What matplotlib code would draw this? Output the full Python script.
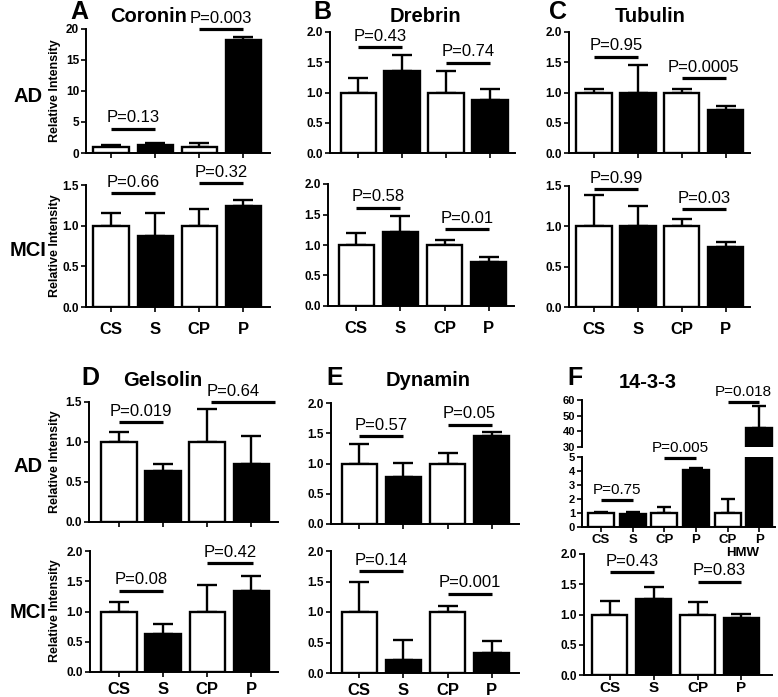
import numpy as np
import matplotlib
matplotlib.use("Agg")
import matplotlib.pyplot as plt

plt.rcParams['font.family'] = ['Liberation Sans', 'DejaVu Sans']

# ---- data ----
groups = ["CS", "S", "CP", "P"]
groups_f = ["CS", "S", "CP", "P", "CP", "P"]
fills = ["white", "black", "white", "black"]
fills_f = ["white", "black", "white", "black", "white", "black"]

coronin_ad = [1.0, 1.3, 1.0, 18.3]
coronin_ad_err = [0.3, 0.3, 0.6, 0.4]
coronin_mci = [1.0, 0.87, 1.0, 1.24]
coronin_mci_err = [0.15, 0.28, 0.2, 0.08]

drebrin_ad = [1.0, 1.36, 1.0, 0.87]
drebrin_ad_err = [0.24, 0.26, 0.35, 0.19]
drebrin_mci = [1.0, 1.21, 1.0, 0.72]
drebrin_mci_err = [0.19, 0.26, 0.08, 0.08]

tubulin_ad = [1.0, 1.0, 1.0, 0.71]
tubulin_ad_err = [0.05, 0.45, 0.05, 0.07]
tubulin_mci = [1.0, 1.0, 1.0, 0.75]
tubulin_mci_err = [0.39, 0.25, 0.09, 0.06]

gelsolin_ad = [1.0, 0.64, 1.0, 0.73]
gelsolin_ad_err = [0.12, 0.08, 0.41, 0.35]
gelsolin_mci = [1.0, 0.63, 1.0, 1.34]
gelsolin_mci_err = [0.16, 0.17, 0.43, 0.25]

dynamin_ad = [1.0, 0.78, 1.0, 1.46]
dynamin_ad_err = [0.33, 0.23, 0.18, 0.06]
dynamin_mci = [1.0, 0.21, 1.0, 0.33]
dynamin_mci_err = [0.49, 0.33, 0.1, 0.19]

ywhaz_ad = [1.0, 0.95, 1.0, 4.05, 1.0, 42.0]
ywhaz_ad_err = [0.1, 0.1, 0.45, 0.2, 1.0, 14.0]
ywhaz_mci = [1.0, 1.26, 1.0, 0.95]
ywhaz_mci_err = [0.22, 0.19, 0.21, 0.06]

# p-value brackets: (text, from bar, to bar, height[, text position])
coronin_ad_p = [("P=0.13", 0, 1, 3.9), ("P=0.003", 2, 3, 20.0)]
coronin_mci_p = [("P=0.66", 0, 1, 1.40), ("P=0.32", 2, 3, 1.52)]
drebrin_ad_p = [("P=0.43", 0, 1, 1.75), ("P=0.74", 2, 3, 1.49)]
drebrin_mci_p = [("P=0.58", 0, 1, 1.61), ("P=0.01", 2, 3, 1.26)]
tubulin_ad_p = [("P=0.95", 0, 1, 1.59), ("P=0.0005", 2, 3, 1.24)]
tubulin_mci_p = [("P=0.99", 0, 1, 1.46), ("P=0.03", 2, 3, 1.21)]
gelsolin_ad_p = [("P=0.019", 0, 1, 1.25), ("P=0.64", 2.1, 3.55, 1.5, 2.6)]
gelsolin_mci_p = [("P=0.08", 0, 1, 1.34), ("P=0.42", 2, 3.05, 1.8)]
dynamin_ad_p = [("P=0.57", 0, 1, 1.45), ("P=0.05", 2, 3, 1.64)]
dynamin_mci_p = [("P=0.14", 0, 1, 1.67), ("P=0.001", 2, 3, 1.3)]
ywhaz_ad_p_low = [("P=0.75", 0, 1, 1.93), ("P=0.005", 2, 3, 4.9)]
ywhaz_ad_p_high = [("P=0.018", 4, 5, 58.7)]
ywhaz_mci_p = [("P=0.43", 0, 1, 1.70), ("P=0.83", 2, 3, 1.54)]

# ---- layout helpers ----
W, H = 778, 697
fig = plt.figure(figsize=(W / 100, H / 100), dpi=100)


def make_ax(l, r, t, b):
    return fig.add_axes([l / W, 1 - b / H, (r - l) / W, (b - t) / H])


def draw_bars(ax, means, errs, colors, width=0.8, capsize=7.5):
    x = np.arange(len(means))
    ax.bar(x, means, width, color=colors, edgecolor="black", linewidth=1.7, zorder=2)
    ax.errorbar(x, means, yerr=[np.zeros(len(errs)), errs], fmt="none", ecolor="black",
                elinewidth=1.7, capsize=capsize, capthick=1.7, zorder=1)


def style(ax, ylim, yticks, ytl, n=4, labels=None, lsize=12, xlim=(-0.6, 3.5), pad=7, ysize=8.5):
    ax.set_xlim(*xlim)
    ax.set_ylim(*ylim)
    for s in ["top", "right"]:
        ax.spines[s].set_visible(False)
    for s in ["left", "bottom"]:
        ax.spines[s].set_linewidth(1.4)
    ax.set_yticks(yticks)
    ax.set_yticklabels(ytl, fontsize=ysize, fontweight="bold")
    ax.set_xticks(np.arange(n))
    if labels is None:
        ax.set_xticklabels([])
    else:
        ax.set_xticklabels(labels, fontsize=lsize, fontweight="bold")
    ax.tick_params(direction="out", length=3.5, width=1.2, pad=1.5)
    ax.tick_params(axis="x", pad=pad)


def pvals(ax, items, size=12):
    for item in items:
        text, i, j, y = item[:4]
        tx = item[4] if len(item) > 4 else (i + j) / 2
        ax.plot([i, j], [y, y], color="black", lw=2.3, clip_on=False, solid_capstyle="butt")
        ax.annotate(text, xy=(tx, y), xytext=(0, 2.5), textcoords="offset points",
                    ha="center", va="bottom", fontsize=size, annotation_clip=False)


half = ["0.0", "0.5", "1.0", "1.5"]
full = ["0.0", "0.5", "1.0", "1.5", "2.0"]
ticks_half = [0, 0.5, 1.0, 1.5]
ticks_full = [0, 0.5, 1.0, 1.5, 2.0]

# ---- A: Coronin ----
ax = make_ax(86, 270, 29, 153)
draw_bars(ax, coronin_ad, coronin_ad_err, fills)
style(ax, (0, 20), [0, 5, 10, 15, 20], ["0", "5", "10", "15", "20"], xlim=(-0.57, 3.61))
pvals(ax, coronin_ad_p)
ax = make_ax(86, 270, 185, 307)
draw_bars(ax, coronin_mci, coronin_mci_err, fills)
style(ax, (0, 1.5), ticks_half, half, labels=groups, xlim=(-0.57, 3.61))
pvals(ax, coronin_mci_p)

# ---- B: Drebrin ----
ax = make_ax(330, 515, 32, 153)
draw_bars(ax, drebrin_ad, drebrin_ad_err, fills)
style(ax, (0, 2), ticks_full, full, xlim=(-0.64, 3.57))
pvals(ax, drebrin_ad_p)
ax = make_ax(328, 514, 184, 306)
draw_bars(ax, drebrin_mci, drebrin_mci_err, fills)
style(ax, (0, 2), ticks_full, full, labels=groups, xlim=(-0.64, 3.57))
pvals(ax, drebrin_mci_p)

# ---- C: Tubulin ----
ax = make_ax(569, 750, 32, 153)
draw_bars(ax, tubulin_ad, tubulin_ad_err, fills)
style(ax, (0, 2), ticks_full, full, xlim=(-0.57, 3.55))
pvals(ax, tubulin_ad_p)
ax = make_ax(569, 750, 186, 307)
draw_bars(ax, tubulin_mci, tubulin_mci_err, fills)
style(ax, (0, 1.5), ticks_half, half, labels=groups, xlim=(-0.57, 3.55))
pvals(ax, tubulin_mci_p)

# ---- D: Gelsolin ----
ax = make_ax(89, 278, 402, 522)
draw_bars(ax, gelsolin_ad, gelsolin_ad_err, fills)
style(ax, (0, 1.5), ticks_half, half, xlim=(-0.68, 3.61))
pvals(ax, gelsolin_ad_p)
ax = make_ax(90, 278, 551, 672)
draw_bars(ax, gelsolin_mci, gelsolin_mci_err, fills)
style(ax, (0, 2), ticks_full, full, labels=groups, xlim=(-0.66, 3.61), pad=3.5)
pvals(ax, gelsolin_mci_p)

# ---- E: Dynamin ----
ax = make_ax(331, 519, 403, 524)
draw_bars(ax, dynamin_ad, dynamin_ad_err, fills)
style(ax, (0, 2), ticks_full, full, xlim=(-0.64, 3.62))
pvals(ax, dynamin_ad_p)
ax = make_ax(331, 519, 551, 673)
draw_bars(ax, dynamin_mci, dynamin_mci_err, fills)
style(ax, (0, 2), ticks_full, full, labels=groups, xlim=(-0.64, 3.62), pad=3.5)
pvals(ax, dynamin_mci_p)

# ---- F: 14-3-3 (broken axis) ----
axt = make_ax(582, 775, 400, 447)
draw_bars(axt, ywhaz_ad, ywhaz_ad_err, fills_f, width=0.82, capsize=5)
style(axt, (30, 60), [30, 40, 50, 60], ["30", "40", "50", "60"], n=6, xlim=(-0.6, 5.5), ysize=8)
axt.spines["bottom"].set_visible(False)
axt.tick_params(axis="x", length=0)
pvals(axt, ywhaz_ad_p_high, size=11)
axb = make_ax(582, 775, 457, 527)
draw_bars(axb, ywhaz_ad, ywhaz_ad_err, fills_f, width=0.82, capsize=5)
style(axb, (0, 5), [0, 1, 2, 3, 4, 5], ["0", "1", "2", "3", "4", "5"], n=6,
      labels=groups_f, lsize=9.5, xlim=(-0.6, 5.5), pad=1.5, ysize=8)
pvals(axb, ywhaz_ad_p_low, size=11)
ax = make_ax(584, 772, 554, 675)
draw_bars(ax, ywhaz_mci, ywhaz_mci_err, fills)
style(ax, (0, 2), ticks_full, full, labels=groups, lsize=11, xlim=(-0.59, 3.7), pad=1)
pvals(ax, ywhaz_mci_p)
fig.text(743 / W, 1 - 553 / H, "HMW", fontsize=9.5, fontweight="bold", ha="center", va="center")

# ---- panel letters, titles and row labels ----
for letter, x, y in [("A", 79, 12), ("B", 322, 12), ("C", 558, 12),
                     ("D", 90, 378), ("E", 335, 378), ("F", 575, 378)]:
    fig.text(x / W, 1 - y / H, letter, fontsize=18, fontweight="bold", ha="center", va="center")
for title, x, y in [("Coronin", 149, 16), ("Drebrin", 425, 16), ("Tubulin", 650, 16),
                    ("Gelsolin", 163, 381), ("Dynamin", 428, 381), ("14-3-3", 648, 382)]:
    fig.text(x / W, 1 - y / H, title, fontsize=14.5, fontweight="bold", ha="center", va="center")
for row, y in [("AD", 97), ("MCI", 251), ("AD", 466), ("MCI", 613)]:
    fig.text(28 / W, 1 - y / H, row, fontsize=14.5, fontweight="bold", ha="center", va="center")
for y in [91, 246, 462, 611]:
    fig.text(55 / W, 1 - y / H, "Relative Intensity", fontsize=9, fontweight="bold",
             rotation=90, ha="center", va="center")

fig.savefig("out.png", dpi=100)
